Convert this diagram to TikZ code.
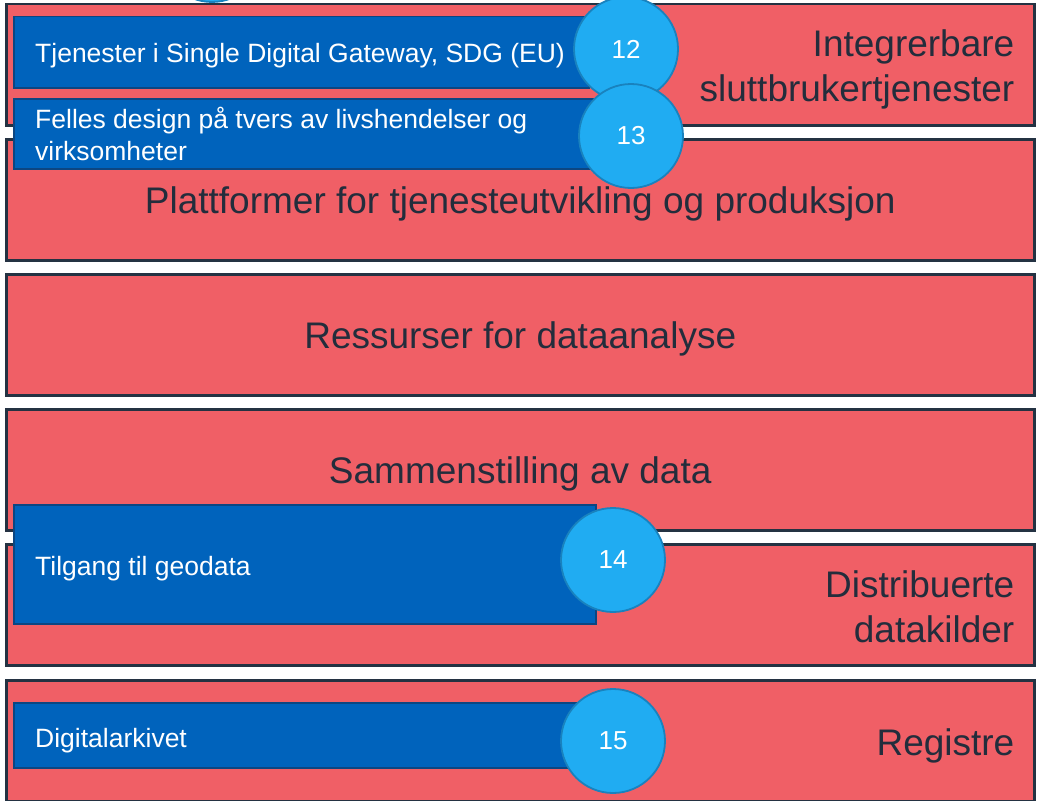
\documentclass[tikz,border=0pt]{standalone}
\usepackage{fontspec}
\setmainfont{Liberation Sans}
\usetikzlibrary{positioning}
\definecolor{layerred}{RGB}{240,95,102}
\definecolor{layerline}{RGB}{36,50,66}
\definecolor{textdark}{RGB}{35,45,60}
\definecolor{boxblue}{RGB}{0,99,188}
\definecolor{boxline}{RGB}{12,70,130}
\definecolor{dotblue}{RGB}{32,172,242}
\definecolor{dotline}{RGB}{25,130,190}

\begin{document}
\begin{tikzpicture}[x=1pt, y=-1pt,
            layer/.style={draw=layerline, line width=2.5pt, fill=layerred, minimum width=1028pt, minimum height=121pt, anchor=north west, inner sep=0pt},
            layertext/.style={text=textdark, font=\fontsize{37}{45}\selectfont, align=right, inner sep=0pt},
            tiltak/.style={draw=boxline, line width=1.5pt, fill=boxblue, anchor=north west, inner sep=0pt},
            tiltaktext/.style={text=white, font=\fontsize{26.5}{32}\selectfont, align=left, anchor=west, inner sep=0pt},
            nummer/.style={circle, draw=dotline, line width=1.8pt, fill=dotblue, text=white, minimum size=104pt, inner sep=0pt, font=\fontsize{26}{30}\selectfont}]
            \useasboundingbox[fill=white] (0, 0) rectangle (1038, 800);
            % lagene
            \node[layer] (integ) at (5, 3) {};
            \node[layer] (platt) at (5, 138) {};
            \node[layer] (analyse) at (5, 273) {};
            \node[layer] (sammen) at (5, 408) {};
            \node[layer] (kilder) at (5, 543) {};
            \node[layer] (reg) at (5, 679) {};
            \node[layertext, anchor=east] (integtxt) at ([xshift=-21pt, yshift=-5pt]integ.east) {Integrerbare\\sluttbrukertjenester};
            \node[layertext] (platttxt) at ([yshift=-4pt]platt.center) {Plattformer for tjenesteutvikling og produksjon};
            \node[layertext] (analysetxt) at ([yshift=-4pt]analyse.center) {Ressurser for dataanalyse};
            \node[layertext] (sammentxt) at ([yshift=-4pt]sammen.center) {Sammenstilling av data};
            \node[layertext, anchor=east] (kildertxt) at ([xshift=-21pt, yshift=-2pt]kilder.east) {Distribuerte\\datakilder};
            \node[layertext, anchor=east] (regtxt) at ([xshift=-21pt, yshift=-5pt]reg.east) {Registre};
            % tiltakene
            \node[tiltak, minimum width=575pt, minimum height=71pt] (sdg) at (13, 16) {};
            \node[tiltak, minimum width=579pt, minimum height=70pt] (design) at (13, 98) {};
            \node[tiltak, minimum width=582pt, minimum height=119pt] (geo) at (13, 504) {};
            \node[tiltak, minimum width=587pt, minimum height=65pt] (arkiv) at (13, 702) {};
            \node[tiltaktext] (sdgtxt) at ([xshift=22pt, yshift=-3pt]sdg.west) {Tjenester i Single Digital Gateway, SDG (EU)};
            \node[tiltaktext] (designtxt) at ([xshift=22pt]design.west) {Felles design på tvers av livshendelser og\\virksomheter};
            \node[tiltaktext] (geotxt) at ([xshift=22pt, yshift=-4pt]geo.west) {Tilgang til geodata};
            \node[tiltaktext] (arkivtxt) at ([xshift=22pt, yshift=-5pt]arkiv.west) {Digitalarkivet};
            % numrene
            \node[nummer] (n11) at (212, -50) {};
            \node[nummer] (n12) at (626, 49) {12};
            \node[nummer] (n13) at (631, 136) {13};
            \node[nummer] (n14) at (613, 560) {14};
            \node[nummer] (n15) at (613, 741) {15};
\end{tikzpicture}
\end{document}
